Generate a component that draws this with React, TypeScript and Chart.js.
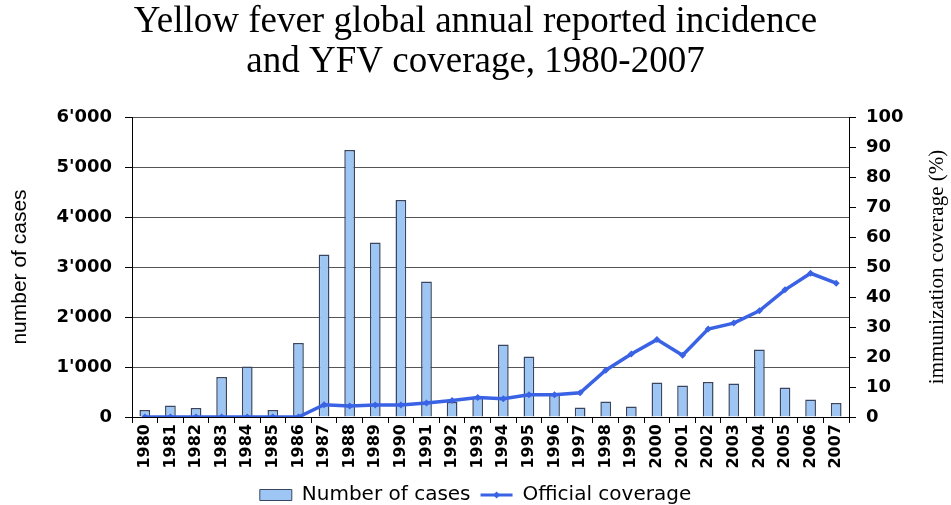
import React, { useEffect, useRef } from "react";
import { Chart, registerables } from "chart.js";

Chart.register(...registerables);

const years = [
  "1980", "1981", "1982", "1983", "1984", "1985", "1986", "1987", "1988", "1989",
  "1990", "1991", "1992", "1993", "1994", "1995", "1996", "1997", "1998", "1999",
  "2000", "2001", "2002", "2003", "2004", "2005", "2006", "2007",
];

const cases = [
  140, 230, 180, 800, 1010, 140, 1480, 3250, 5340, 3490,
  4340, 2710, 300, 400, 1450, 1210, 470, 190, 310, 210,
  690, 630, 700, 670, 1350, 590, 350, 280,
];

const coverage = [
  0, 0, 0, 0, 0, 0, 0, 4.1, 3.7, 4,
  4, 4.7, 5.5, 6.5, 6.1, 7.4, 7.4, 8.1, 15.6, 21,
  25.8, 20.6, 29.3, 31.3, 35.4, 42.4, 47.9, 44.6,
];

const titleLines = [
  "Yellow fever global annual reported incidence",
  "and YFV coverage, 1980-2007",
];

const BAR_FILL = "#9DC6F4";
const BAR_BORDER = "#3A4660";
const LINE_COLOR = "#3A62E4";

function fmtThousands(v: number): string {
  if (v === 0) return "0";
  const th = Math.floor(v / 1000);
  const rest = String(v % 1000).padStart(3, "0");
  return th > 0 ? `${th}'${rest}` : String(v);
}

const rightTitlePlugin = {
  id: "rightTitle",
  afterDraw(chart: any) {
    const { ctx, chartArea } = chart;
    ctx.save();
    ctx.translate(937, (chartArea.top + chartArea.bottom) / 2);
    ctx.rotate(-Math.PI / 2);
    ctx.font = '21px "Liberation Serif"';
    ctx.fillStyle = "#000";
    ctx.textAlign = "center";
    ctx.textBaseline = "middle";
    ctx.fillText("immunization coverage (%)", 0, 0);
    ctx.restore();

    // diamond marker on the legend line symbol
    const legend = chart.legend;
    if (legend && legend.legendHitBoxes && legend.legendHitBoxes[1]) {
      const hb = legend.legendHitBoxes[1];
      const cx = hb.left + 16;
      const cy = hb.top + 10;
      ctx.save();
      ctx.fillStyle = LINE_COLOR;
      ctx.beginPath();
      ctx.moveTo(cx, cy - 3.5);
      ctx.lineTo(cx + 3.5, cy);
      ctx.lineTo(cx, cy + 3.5);
      ctx.lineTo(cx - 3.5, cy);
      ctx.closePath();
      ctx.fill();
      ctx.restore();
    }
  },
};

export default function App() {
  const ref = useRef<HTMLCanvasElement | null>(null);

  useEffect(() => {
    if (!ref.current) return;
    const chart = new Chart(ref.current, {
      type: "bar",
      data: {
        labels: years,
        datasets: [
          {
            type: "line",
            label: "Official coverage",
            data: coverage,
            yAxisID: "y1",
            borderColor: LINE_COLOR,
            backgroundColor: LINE_COLOR,
            borderWidth: 3.5,
            pointStyle: "rectRot",
            pointRadius: 3.5,
            pointBorderWidth: 0,
            tension: 0,
            order: 0,
          } as any,
          {
            type: "bar",
            label: "Number of cases",
            data: cases,
            yAxisID: "y",
            backgroundColor: BAR_FILL,
            borderColor: BAR_BORDER,
            borderWidth: 1.5,
            barPercentage: 0.42,
            categoryPercentage: 1,
            order: 1,
          } as any,
        ],
      },
      options: {
        responsive: false,
        animation: false,
        layout: { padding: 0 },
        font: { family: "DejaVu Sans" },
        plugins: {
          tooltip: { enabled: false },
          title: {
            display: true,
            text: titleLines,
            color: "#000",
            font: { family: "Liberation Serif", size: 37, weight: "normal", lineHeight: 40 / 37 },
            padding: { top: 2, bottom: 35 },
          },
          legend: {
            display: true,
            position: "bottom",
            maxHeight: 30,
            labels: {
              usePointStyle: true,
              pointStyleWidth: 32,
              boxHeight: 11,
              padding: 10,
              color: "#000",
              font: { family: "DejaVu Sans", size: 20 },
              generateLabels: () => [
                {
                  text: "Number of cases",
                  fillStyle: BAR_FILL,
                  strokeStyle: BAR_BORDER,
                  lineWidth: 1,
                  pointStyle: "rect",
                  datasetIndex: 1,
                  hidden: false,
                  fontColor: "#000",
                },
                {
                  text: "Official coverage",
                  fillStyle: LINE_COLOR,
                  strokeStyle: LINE_COLOR,
                  lineWidth: 3,
                  pointStyle: "line",
                  datasetIndex: 0,
                  hidden: false,
                  fontColor: "#000",
                },
              ],
            },
          },
        },
        scales: {
          x: {
            offset: true,
            grid: {
              offset: true,
              drawOnChartArea: false,
              drawTicks: true,
              tickLength: 6,
              color: "#000",
            },
            border: { display: true, color: "#000", width: 1 },
            ticks: {
              autoSkip: false,
              minRotation: 90,
              maxRotation: 90,
              padding: 1,
              color: "#000",
              font: { family: "DejaVu Sans", size: 16, weight: "bold" },
            },
            afterFit: (s: any) => {
              s.height = 58;
            },
          },
          y: {
            position: "left",
            min: 0,
            max: 6000,
            ticks: {
              stepSize: 1000,
              padding: 13,
              color: "#000",
              font: { family: "DejaVu Sans", size: 18, weight: "bold" },
              callback: (v: any) => fmtThousands(Number(v)),
            },
            grid: {
              color: "#555",
              lineWidth: 1,
              drawTicks: true,
              tickLength: 7,
              tickColor: "#000",
            },
            border: { display: true, color: "#000", width: 1 },
            title: {
              display: true,
              text: "number of cases",
              color: "#000",
              font: { family: "Liberation Sans", size: 21, weight: "normal" },
              padding: { top: 8, bottom: 0 },
            },
            afterFit: (s: any) => {
              s.width = 132;
            },
          },
          y1: {
            position: "right",
            min: 0,
            max: 100,
            ticks: {
              stepSize: 10,
              padding: 10,
              color: "#000",
              font: { family: "DejaVu Sans", size: 18, weight: "bold" },
            },
            grid: {
              drawOnChartArea: false,
              drawTicks: true,
              tickLength: 7,
              color: "#000",
            },
            border: { display: true, color: "#000", width: 1 },
            afterFit: (s: any) => {
              s.width = 102;
            },
          },
        },
      } as any,
      plugins: [rightTitlePlugin],
    });
    return () => chart.destroy();
  }, []);

  return (
    <div style={{ position: "absolute", left: 0, top: 0, width: 951, height: 505, background: "#fff" }}>
      <canvas ref={ref} width={951} height={505} style={{ width: 951, height: 505, display: "block" }} />
    </div>
  );
}
